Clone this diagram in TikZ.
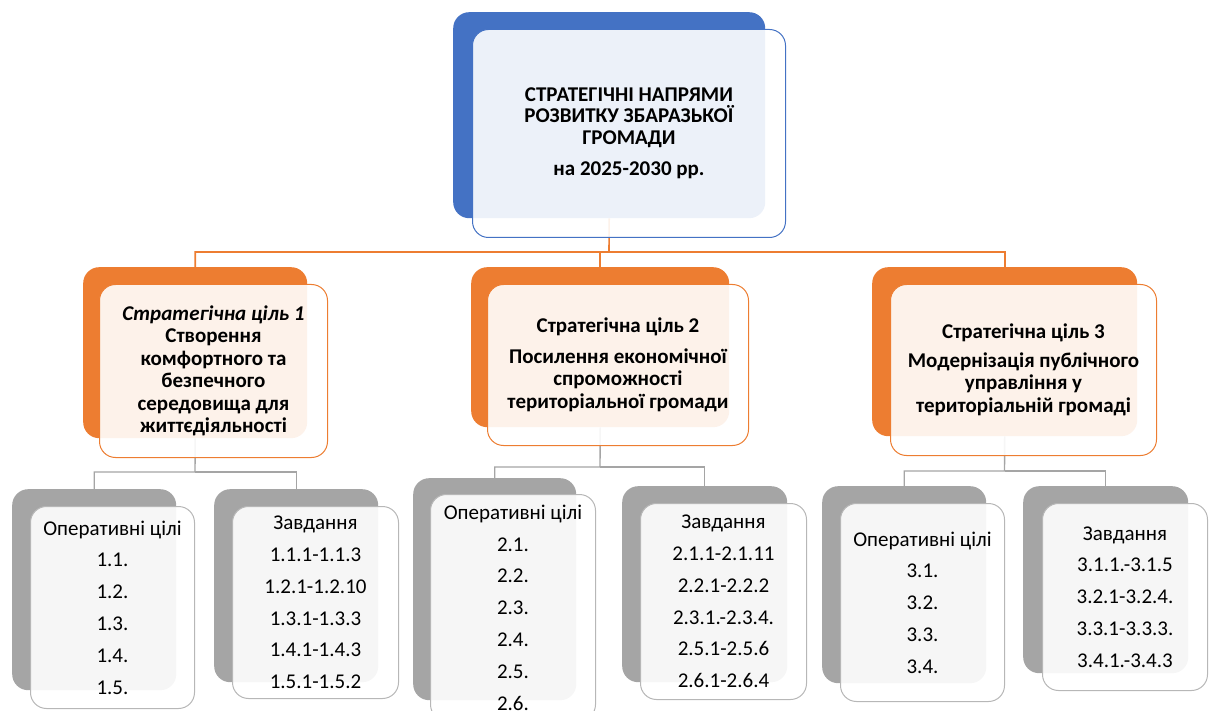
\documentclass[tikz,border=0pt]{standalone}
\usepackage{fontspec}
\setmainfont{Carlito}
\usetikzlibrary{backgrounds}
\definecolor{accblue}{HTML}{4472C4}
\definecolor{accorange}{HTML}{ED7D31}
\definecolor{accgray}{HTML}{A5A5A5}

\begin{document}
\begin{tikzpicture}[x=1pt,y=-1pt]
    \tikzstyle{box}=[rounded corners=16pt, anchor=north west, inner sep=0pt]
    \tikzstyle{back}=[box, draw=none]
    \tikzstyle{front}=[box, fill=white, fill opacity=0.9, text opacity=1, line width=1pt, align=center, text=black]
    \tikzstyle{top back}=[back, fill=accblue]
    \tikzstyle{top front}=[front, draw=accblue, font=\fontsize{21}{21.5}\selectfont\bfseries]
    \tikzstyle{goal back}=[back, fill=accorange]
    \tikzstyle{goal front}=[front, draw=accorange, font=\fontsize{21}{22.5}\selectfont\bfseries]
    \tikzstyle{list back}=[back, fill=accgray]
    \tikzstyle{list front}=[front, draw=accgray!80, font=\fontsize{21}{31.8}\selectfont]
    \tikzstyle{orange link}=[draw=accorange, line width=1.6pt]
    \tikzstyle{gray link}=[draw=accgray, line width=1.4pt]

    \useasboundingbox (0,0) rectangle (1213,711);
    \clip (0,0) rectangle (1213,711);

    % Main direction
    \node[top back, minimum width=312pt, minimum height=206pt] (T) at (453,12) {};
    \node[top front, minimum width=313pt, minimum height=208pt] (T-f) at (472,29)
        {СТРАТЕГІЧНІ НАПРЯМИ\\РОЗВИТКУ ЗБАРАЗЬКОЇ\\ГРОМАДИ\\[10pt]на 2025-2030 рр.};

    % Strategic goals
    \node[goal back, minimum width=224pt, minimum height=171pt] (G-1) at (83,267) {};
    \node[goal front, minimum width=228pt, minimum height=173pt] (G-1-f) at (99,284)
        {\textit{Стратегічна ціль 1}\\Створення\\комфортного та\\безпечного\\середовища для\\життєдіяльності};
    \node[goal back, minimum width=258pt, minimum height=160pt] (G-2) at (471,267) {};
    \node[goal front, minimum width=261pt, minimum height=161pt] (G-2-f) at (487,284)
        {Стратегічна ціль 2\\[8pt]Посилення економічної\\спроможності\\територіальної громади};
    \node[goal back, minimum width=265pt, minimum height=169pt] (G-3) at (872,267) {};
    \node[goal front, minimum width=266pt, minimum height=171pt] (G-3-f) at (890,284)
        {Стратегічна ціль 3\\[6pt]Модернізація публічного\\управління у\\територіальній громаді};

    % Operational goals and tasks
    \node[list back, minimum width=164pt, minimum height=201pt] (O-1) at (12,489) {};
    \node[list front, minimum width=164pt, minimum height=202pt] (O-1-f) at (30,506)
        {Оперативні цілі\\1.1.\\1.2.\\1.3.\\1.4.\\1.5.};
    \node[list back, minimum width=164pt, minimum height=193pt] (Z-1) at (214,489) {};
    \node[list front, minimum width=166pt, minimum height=192pt] (Z-1-f) at (232,506)
        {Завдання\\1.1.1-1.1.3\\1.2.1-1.2.10\\1.3.1-1.3.3\\1.4.1-1.4.3\\1.5.1-1.5.2};
    \node[list back, minimum width=163pt, minimum height=222pt] (O-2) at (413,478) {};
    \node[list front, minimum width=165pt, minimum height=226pt] (O-2-f) at (430,494)
        {Оперативні цілі\\2.1.\\2.2.\\2.3.\\2.4.\\2.5.\\2.6.};
    \node[list back, minimum width=165pt, minimum height=196pt] (Z-2) at (622,486) {};
    \node[list front, minimum width=166pt, minimum height=196pt] (Z-2-f) at (640,503)
        {Завдання\\2.1.1-2.1.11\\2.2.1-2.2.2\\2.3.1.-2.3.4.\\2.5.1-2.5.6\\2.6.1-2.6.4};
    \node[list back, minimum width=164pt, minimum height=197pt] (O-3) at (822,486) {};
    \node[list front, minimum width=164pt, minimum height=198pt] (O-3-f) at (840,503)
        {Оперативні цілі\\3.1.\\3.2.\\3.3.\\3.4.};
    \node[list back, minimum width=165pt, minimum height=187pt] (Z-3) at (1023,486) {};
    \node[list front, minimum width=165pt, minimum height=187pt] (Z-3-f) at (1042,503)
        {Завдання\\3.1.1.-3.1.5\\3.2.1-3.2.4.\\3.3.1-3.3.3.\\3.4.1.-3.4.3};

    % Connect the levels
    \begin{scope}[on background layer]
    \coordinate (bus-T) at (609,252);
    \draw[orange link] (T.south) -- (bus-T) -| (G-1.north);
    \draw[orange link] (bus-T) -| (G-2.north);
    \draw[orange link] (bus-T) -| (G-3.north);
    \coordinate (bus-1) at (195,472);
    \coordinate (bus-2) at (600,467);
    \coordinate (bus-3) at (1004.5,471);
    \foreach \i in {1,2,3} {
        \draw[gray link] (G-\i.south) -- (bus-\i) -| (O-\i.north);
        \draw[gray link] (bus-\i) -| (Z-\i.north);
    }
    \end{scope}
\end{tikzpicture}
\end{document}
